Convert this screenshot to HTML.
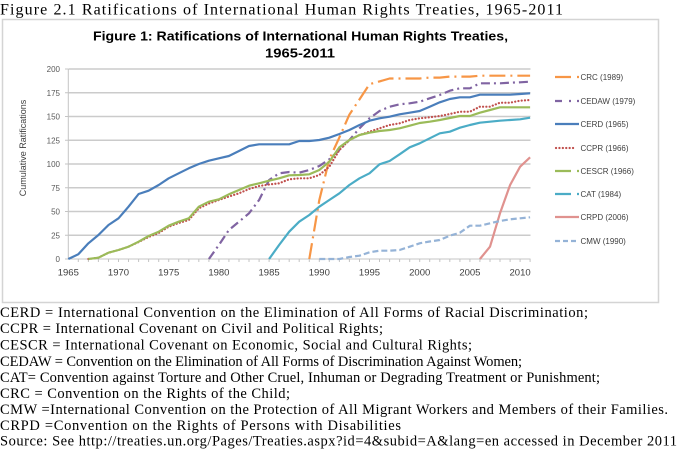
<!DOCTYPE html>
<html><head><meta charset="utf-8"><style>
html,body{margin:0;padding:0;background:#fff;}
svg{display:block;}
</style></head><body>
<svg width="680" height="450" viewBox="0 0 680 450" xmlns="http://www.w3.org/2000/svg">
<rect x="0" y="0" width="680" height="450" fill="#fff"/>
<text x="0" y="14.5" font-family="Liberation Serif, serif" font-size="16" textLength="563" lengthAdjust="spacing" fill="#000">Figure 2.1 Ratifications of International Human Rights Treaties, 1965-2011</text>
<rect x="2.5" y="19.5" width="656" height="283" fill="#fff" stroke="#d4d4d4" stroke-width="1.5"/>
<text x="300.5" y="40.7" text-anchor="middle" font-family="Liberation Sans, sans-serif" font-weight="bold" font-size="12.6" textLength="415" lengthAdjust="spacingAndGlyphs" fill="#000">Figure 1: Ratifications of International Human Rights Treaties,</text>
<text x="300" y="57.3" text-anchor="middle" font-family="Liberation Sans, sans-serif" font-weight="bold" font-size="12.6" textLength="70" lengthAdjust="spacingAndGlyphs" fill="#000">1965-2011</text>
<g stroke="#cbcbcb" stroke-width="1.6">
<line x1="68.3" y1="69" x2="530.5" y2="69"/>
<line x1="68.3" y1="92.75" x2="530.5" y2="92.75"/>
<line x1="68.3" y1="116.5" x2="530.5" y2="116.5"/>
<line x1="68.3" y1="140.25" x2="530.5" y2="140.25"/>
<line x1="68.3" y1="164" x2="530.5" y2="164"/>
<line x1="68.3" y1="187.75" x2="530.5" y2="187.75"/>
<line x1="68.3" y1="211.5" x2="530.5" y2="211.5"/>
<line x1="68.3" y1="235.25" x2="530.5" y2="235.25"/>
</g>
<g stroke="#c4c4c4" stroke-width="1">
<line x1="68.3" y1="69" x2="68.3" y2="259"/>
<line x1="68.3" y1="259" x2="530.5" y2="259"/>
<path d="M65,69H68M65,92.75H68M65,116.5H68M65,140.25H68M65,164H68M65,187.75H68M65,211.5H68M65,235.25H68M65,259H68"/>
<path d="M78.3,259v3M88.4,259v3M98.4,259v3M108.5,259v3M118.5,259v3M128.5,259v3M138.6,259v3M148.6,259v3M158.7,259v3M168.7,259v3M178.7,259v3M188.8,259v3M198.8,259v3M208.9,259v3M218.9,259v3M228.9,259v3M239,259v3M249,259v3M259.1,259v3M269.1,259v3M279.1,259v3M289.2,259v3M299.2,259v3M309.3,259v3M319.3,259v3M329.3,259v3M339.4,259v3M349.4,259v3M359.5,259v3M369.5,259v3M379.5,259v3M389.6,259v3M399.6,259v3M409.7,259v3M419.7,259v3M429.7,259v3M439.8,259v3M449.8,259v3M459.9,259v3M469.9,259v3M479.9,259v3M490,259v3M500,259v3M510.1,259v3M520.1,259v3M530.1,259v3"/>
</g>
<g font-family="Liberation Sans, sans-serif" font-size="8" fill="#595959" text-anchor="end">
<text x="60" y="72">200</text>
<text x="60" y="95.8">175</text>
<text x="60" y="119.5">150</text>
<text x="60" y="143.3">125</text>
<text x="60" y="167">100</text>
<text x="60" y="190.8">75</text>
<text x="60" y="214.5">50</text>
<text x="60" y="238.3">25</text>
<text x="60" y="262">0</text>
</g>
<g font-family="Liberation Sans, sans-serif" font-size="9.5" fill="#404040" text-anchor="middle">
<text x="68.3" y="275.5">1965</text>
<text x="118.5" y="275.5">1970</text>
<text x="168.7" y="275.5">1975</text>
<text x="218.9" y="275.5">1980</text>
<text x="269.1" y="275.5">1985</text>
<text x="319.3" y="275.5">1990</text>
<text x="369.5" y="275.5">1995</text>
<text x="419.7" y="275.5">2000</text>
<text x="469.9" y="275.5">2005</text>
<text x="520.1" y="275.5">2010</text>
</g>
<text transform="translate(26,148) rotate(-90)" text-anchor="middle" font-family="Liberation Sans, sans-serif" font-size="9" fill="#404040">Cumulative Ratifications</text>
<g fill="none" stroke-width="2.2" stroke-linejoin="round">
<polyline stroke="#f79646" stroke-dasharray="16 5 2 5" points="309.3,259 319.3,200.1 329.3,159.3 339.4,137.4 349.4,114.6 359.5,99.4 369.5,84.2 379.5,81.4 389.6,78.5 399.6,78.5 409.7,78.5 419.7,78.5 429.7,77.6 439.8,77.6 449.8,76.6 459.9,76.6 469.9,76.6 479.9,75.7 490,75.7 500,75.7 510.1,75.7 520.1,75.7 530.1,75.7"/>
<polyline stroke="#8064a2" stroke-dasharray="9 4 2 4" points="208.9,259 218.9,245 228.9,230 239,221.7 249,213.3 259.1,200 269.1,180 279.1,173.3 289.2,172 299.2,172.7 309.3,170 319.3,166 329.3,159.3 339.4,150 349.4,140 359.5,128.3 369.5,118.3 379.5,111 389.6,106.7 399.6,104.3 409.7,103.3 419.7,101.7 429.7,98.3 439.8,95 449.8,90.7 459.9,88.3 469.9,88.3 479.9,83.3 490,83.3 500,83.3 510.1,82.7 520.1,82.3 530.1,81.7"/>
<polyline stroke="#4a7ebb" points="68.3,259 78.3,254.3 88.4,243.3 98.4,235 108.5,225 118.5,218.3 128.5,206.7 138.6,194 148.6,190.7 158.7,185 168.7,178.3 178.7,173.3 188.8,168.3 198.8,164 208.9,160.7 218.9,158.3 228.9,156 239,151 249,146 259.1,144.3 269.1,144.3 279.1,144.3 289.2,144.3 299.2,141 309.3,141 319.3,140 329.3,137.7 339.4,134 349.4,130 359.5,125 369.5,120.7 379.5,118.3 389.6,116.7 399.6,114.3 409.7,112.7 419.7,111 429.7,106.7 439.8,102.3 449.8,99 459.9,97.3 469.9,97.3 479.9,94.7 490,94.7 500,94.7 510.1,94.7 520.1,94 530.1,93.3"/>
<polyline stroke="#c0504d" stroke-dasharray="0.1 3.2" stroke-linecap="round" points="88.4,259 98.4,257.7 108.5,252.7 118.5,250 128.5,246.7 138.6,242 148.6,237 158.7,233 168.7,226.7 178.7,223 188.8,220 198.8,208.3 208.9,203.5 218.9,200 228.9,196.5 239,193.3 249,189 259.1,186 269.1,184.5 279.1,183.3 289.2,179.3 299.2,178.3 309.3,178.3 319.3,175 329.3,166.7 339.4,150 349.4,140 359.5,135 369.5,131.7 379.5,128.3 389.6,125 399.6,123.3 409.7,120 419.7,118.3 429.7,117.3 439.8,116 449.8,114 459.9,111.7 469.9,111.7 479.9,106.7 490,106.7 500,102.7 510.1,102.7 520.1,100.7 530.1,100"/>
<polyline stroke="#9bbb59" points="88.4,259 98.4,257.7 108.5,252.7 118.5,250 128.5,246.7 138.6,241.7 148.6,236 158.7,231.7 168.7,225.7 178.7,221.7 188.8,218.3 198.8,206.7 208.9,201.7 218.9,199.3 228.9,194.3 239,190 249,185.7 259.1,183.3 269.1,180.7 279.1,178.3 289.2,175.3 299.2,175 309.3,174.3 319.3,170 329.3,161.7 339.4,147.3 349.4,140 359.5,135 369.5,132.7 379.5,131 389.6,130 399.6,128.3 409.7,125.7 419.7,123 429.7,121.7 439.8,120 449.8,118 459.9,116 469.9,116 479.9,112.7 490,110 500,107.3 510.1,107.3 520.1,107.3 530.1,107.3"/>
<polyline stroke="#4bacc6" points="269.1,259 279.1,245 289.2,231.7 299.2,221.7 309.3,215 319.3,206.7 329.3,200 339.4,193.3 349.4,185 359.5,178.3 369.5,173.3 379.5,164.3 389.6,161 399.6,154.3 409.7,147.3 419.7,143.3 429.7,138.3 439.8,133.3 449.8,131.7 459.9,127.7 469.9,125 479.9,122.7 490,121.7 500,120.7 510.1,120 520.1,119.3 530.1,117.7"/>
<polyline stroke="#e0928f" points="479.9,259 490,246.7 500,213.3 510.1,185 520.1,166.7 530.1,157.3"/>
<polyline stroke="#95b3d7" stroke-dasharray="6 3" points="319.3,259 329.3,259 339.4,259 349.4,257 359.5,255.7 369.5,252.3 379.5,250.7 389.6,250.7 399.6,250 409.7,246.7 419.7,243.3 429.7,241.5 439.8,240 449.8,235.7 459.9,232.7 469.9,225.7 479.9,225.7 490,223.3 500,221 510.1,219.3 520.1,218.3 530.1,217.3"/>
</g>
<g stroke-width="2.2" fill="none">
<path stroke="#f79646" d="M555,77H571M577,77H579"/>
<path stroke="#8064a2" d="M555,101H562M569,101H571M577,101H579"/>
<path stroke="#4a7ebb" d="M555,124H579"/>
<path stroke="#c0504d" stroke-dasharray="0.1 3.3" stroke-linecap="round" d="M556,148H574"/>
<path stroke="#9bbb59" d="M555,171H571M577,171H579"/>
<path stroke="#4bacc6" d="M555,194H571M577,194H579"/>
<path stroke="#e0928f" d="M555,217H579"/>
<path stroke="#95b3d7" stroke-dasharray="5 3" d="M555,241H579"/>
</g>
<g font-family="Liberation Sans, sans-serif" font-size="8" fill="#404040">
<text x="580.5" y="80">CRC (1989)</text>
<text x="580.5" y="104">CEDAW (1979)</text>
<text x="580.5" y="127">CERD (1965)</text>
<text x="580.5" y="151">CCPR (1966)</text>
<text x="580.5" y="174">CESCR (1966)</text>
<text x="580.5" y="197">CAT (1984)</text>
<text x="580.5" y="220">CRPD (2006)</text>
<text x="580.5" y="244">CMW (1990)</text>
</g>
<g font-family="Liberation Serif, serif" font-size="14.5" fill="#000">
<text x="0" y="317" textLength="588" lengthAdjust="spacing">CERD = International Convention on the Elimination of All Forms of Racial Discrimination;</text>
<text x="0" y="333" textLength="383" lengthAdjust="spacing">CCPR = International Covenant on Civil and Political Rights;</text>
<text x="0" y="349.5" textLength="472" lengthAdjust="spacing">CESCR = International Covenant on Economic, Social and Cultural Rights;</text>
<text x="0" y="365.8" textLength="522" lengthAdjust="spacing">CEDAW = Convention on the Elimination of All Forms of Discrimination Against Women;</text>
<text x="0" y="381.8" textLength="600" lengthAdjust="spacing">CAT= Convention against Torture and Other Cruel, Inhuman or Degrading Treatment or Punishment;</text>
<text x="0" y="397.8" textLength="290" lengthAdjust="spacing">CRC = Convention on the Rights of the Child;</text>
<text x="0" y="413.8" textLength="668" lengthAdjust="spacing">CMW =International Convention on the Protection of All Migrant Workers and Members of their Families.</text>
<text x="0" y="429.8" textLength="401" lengthAdjust="spacing">CRPD =Convention on the Rights of Persons with Disabilities</text>
<text x="0" y="445.5" textLength="677" lengthAdjust="spacing">Source: See http://treaties.un.org/Pages/Treaties.aspx?id=4&amp;subid=A&amp;lang=en accessed in December 2011</text>
</g>
</svg>
</body></html>
